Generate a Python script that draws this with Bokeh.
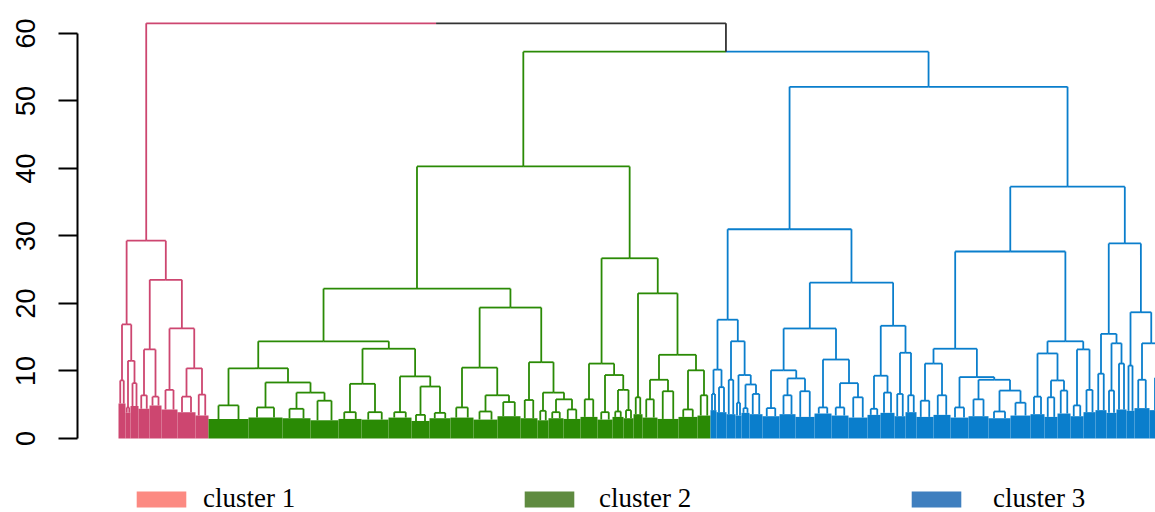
from bokeh.plotting import figure
from bokeh.models import Range1d, FixedTicker, Legend, LegendItem, ColumnDataSource
from bokeh.embed import file_html
from bokeh.resources import INLINE

# ---------------- data ----------------
cluster_names = ["cluster 1", "cluster 2", "cluster 3"]
branch_colors = ["#CD4670", "#2A8A05", "#0A7ECC"]
legend_colors = ["#FC8A82", "#5F8B40", "#3F7FBF"]
mixed_color = "#333333"

# terminal sub-clusters (left to right): top height, leaf count, height of dense base
c1_heights = [8.6, 4.6, 8.2, 6.4, 6.2, 7.2, 6.2, 6.5]
c1_widths = [7, 5, 8, 11, 12, 16, 18, 13]
c1_base = [5.2, 3.8, 4.8, 4.4, 4.9, 4.3, 3.9, 3.4]

c2_heights = [4.9, 4.6, 4.4, 5.6, 3.9, 3.9, 3.9, 3.5, 3.8, 4.6, 4.0, 5.4, 5.7,
              4.1, 3.9, 4.3, 5.8, 3.9, 4.0, 4.2, 6.1, 5.8, 7.0, 4.3, 6.4]
c2_widths = [40, 34, 28, 28, 23, 27, 23, 18, 21, 23, 24, 23, 17, 11, 15, 17, 17,
             15, 11, 10, 9, 15, 21, 19, 13]
c2_base = [2.9, 3.1, 3.0, 2.7, 2.9, 2.8, 3.1, 2.6, 3.0, 3.1, 2.8, 3.3, 3.0, 2.7,
           3.0, 2.9, 3.2, 2.8, 3.2, 3.0, 3.6, 3.1, 2.9, 3.2, 3.4]

c3_heights = [6.6, 7.6, 8.7, 5.3, 4.5, 6.6, 4.5, 6.4, 7.0, 4.6, 4.6, 6.1, 4.4,
              6.8, 6.6, 6.4, 5.6, 6.4, 4.6, 5.8, 4.0, 5.3, 6.2, 6.1, 7.1, 4.9,
              7.2, 9.6, 7.1, 11.1, 10.8, 8.7, 9.0]
c3_widths = [6, 10, 9, 6, 8, 13, 17, 16, 19, 17, 17, 19, 13, 14, 11, 11, 17, 17,
             18, 20, 22, 20, 14, 13, 13, 13, 12, 11, 10, 10, 8, 15, 22]
c3_base = [4.2, 3.9, 3.6, 3.4, 3.8, 3.6, 3.3, 3.6, 3.2, 3.7, 3.4, 3.1, 3.5, 3.8,
           3.3, 3.9, 3.2, 3.5, 3.1, 3.3, 3.0, 3.4, 3.6, 3.2, 3.7, 3.3, 3.9, 4.2,
           3.8, 4.3, 4.1, 4.5, 4.2]

# merge heights: [height, left, right]; integers index the terminal sub-clusters
c1_tree = [29.3, [16.9, 0, [11.5, 1, 2]],
           [23.5, [13.2, 3, 4], [16.3, 5, [10.4, 6, 7]]]]

c2_tree = [40.3,
           [22.2,
            [14.4,
             [10.4, 0, [8.3, 1, [6.8, 2, 3]]],
             [13.3, [8.1, 4, 5], [9.2, 6, [7.7, 7, 8]]]],
            [19.4,
             [10.5, 9, [6.4, 10, 11]],
             [11.3, 12, [6.8, 13, [5.8, 14, 15]]]]],
           [26.7,
            [11.1, 16, [9.4, 17, [7.2, 18, 19]]],
            [21.5, 20, [12.4, [8.7, 21, 22], [10.1, 23, 24]]]]]

c3_tree = [52.1,
           [31.0,
            [17.6,
             [10.2, 0, 1],
             [14.4, 2, [9.4, 3, [8.0, 4, 5]]]],
            [23.1,
             [16.3,
              [10.1, 6, [8.9, 7, 8]],
              [11.7, 9, [8.2, 10, 11]]],
             [16.7,
              [9.3, 12, 13],
              [12.7, 14, 15]]]],
           [37.3,
            [27.7,
             [13.3,
              [11.1, 16, 17],
              [9.1, 18, [8.7, 19, [7.1, 20, 21]]]],
             [14.4,
              [12.6, 22, [8.6, 23, 24]],
              [13.2, 25, 26]]],
            [28.9,
             [15.5, 27, [14.1, 28, 29]],
             [18.7, 30, [14.1, 31, 32]]]]]

top_tree = [61.5, "cluster 1", [57.3, "cluster 2", "cluster 3"]]

y_ticks = [0, 10, 20, 30, 40, 50, 60]

# ---------------- layout ----------------
clusters = {
    "cluster 1": (c1_tree, c1_heights, c1_widths, c1_base, 0),
    "cluster 2": (c2_tree, c2_heights, c2_widths, c2_base, 1),
    "cluster 3": (c3_tree, c3_heights, c3_widths, c3_base, 2),
}

seg = dict(x0=[], y0=[], x1=[], y1=[], c=[])
fill = dict(left=[], right=[], top=[], bottom=[], c=[])
cursor = [0.0]


def add_seg(x0, y0, x1, y1, c):
    seg["x0"].append(x0); seg["y0"].append(y0)
    seg["x1"].append(x1); seg["y1"].append(y1)
    seg["c"].append(c)


def build(node, cl):
    if isinstance(node, str):
        return build(clusters[node][0], node)
    tree, hs, ws, bs, ci = clusters[cl] if cl else (None,) * 5
    col = branch_colors[ci] if cl else mixed_color
    if isinstance(node, int):
        w, h, b = ws[node], hs[node], bs[node]
        left = cursor[0]
        cursor[0] += w
        x = left + w / 2
        fill["left"].append(left); fill["right"].append(left + w)
        fill["top"].append(b); fill["bottom"].append(0)
        fill["c"].append(col)
        xa, xb = left + w / 4, left + 3 * w / 4
        add_seg(xa, b, xa, h, col)
        add_seg(xb, b, xb, h, col)
        add_seg(xa, h, xb, h, col)
        return x, h, col
    h, a, b = node
    xa, ha, ca = build(a, cl)
    xb, hb, cb = build(b, cl)
    x = (xa + xb) / 2
    add_seg(xa, ha, xa, h, ca)
    add_seg(xa, h, x, h, ca)
    add_seg(x, h, xb, h, cb)
    add_seg(xb, hb, xb, h, cb)
    return x, h, (ca if ca == cb else mixed_color)


build(top_tree, None)

# ---------------- figure ----------------
p = figure(width=1155, height=512, output_backend="svg", toolbar_location=None,
           x_range=Range1d(-41, 1037), y_range=Range1d(-10.963, 63.407),
           min_border_left=77, min_border_right=0, min_border_top=10,
           min_border_bottom=0, x_axis_location=None)
p.outline_line_color = None
p.xgrid.visible = False
p.ygrid.visible = False
p.background_fill_color = "white"
p.border_fill_color = "white"

p.quad(left="left", right="right", top="top", bottom="bottom", color="c",
       line_color=None, source=ColumnDataSource(fill))
p.segment(x0="x0", y0="y0", x1="x1", y1="y1", line_color="c", line_width=1.8,
          source=ColumnDataSource(seg))

ax = p.yaxis[0]
ax.ticker = FixedTicker(ticks=y_ticks)
ax.bounds = (0, 60)
ax.axis_line_width = 2
ax.axis_line_color = "black"
ax.major_tick_line_width = 2
ax.major_tick_out = 19
ax.major_tick_in = 0
ax.minor_tick_line_color = None
ax.major_label_orientation = "vertical"
ax.major_label_text_font = "Liberation Sans"
ax.major_label_text_font_size = "27px"
ax.major_label_text_color = "black"
ax.major_label_standoff = 23

legend_x = [53, 441, 828]
legend_standoff = [11, 19, 26]
nan = float("nan")
for name, lc, lx, ls in zip(cluster_names, legend_colors, legend_x, legend_standoff):
    r = p.quad(left=[nan], right=[nan], top=[nan], bottom=[nan],
               fill_color=lc, line_color=None)
    lg = Legend(items=[LegendItem(label=name, renderers=[r])], location=(lx, -2),
                orientation="horizontal", glyph_width=62, glyph_height=20,
                label_standoff=ls, label_text_font="Liberation Serif",
                label_text_font_size="27px", label_text_color="black",
                padding=0, margin=0, border_line_color=None,
                background_fill_alpha=0)
    p.add_layout(lg)

open("out.html", "w").write(file_html(p, INLINE))
